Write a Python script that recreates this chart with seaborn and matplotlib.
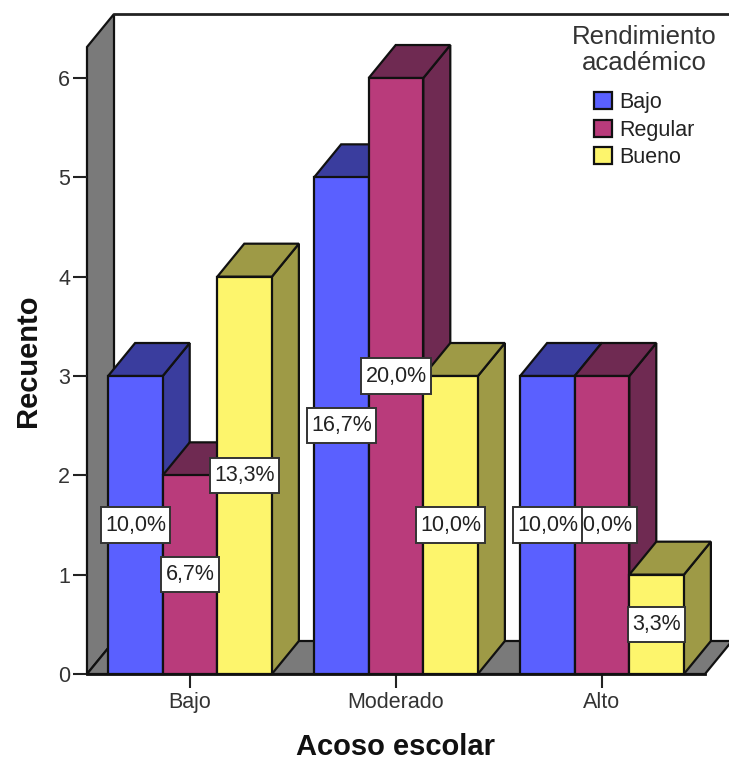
import matplotlib
matplotlib.use("Agg")
import matplotlib.pyplot as plt
from matplotlib.path import Path
import pandas as pd
import seaborn as sns

categories = ["Bajo", "Moderado", "Alto"]
series_names = ["Bajo", "Regular", "Bueno"]
bajo_values = [3, 5, 3]
regular_values = [2, 6, 3]
bueno_values = [4, 3, 1]
bajo_labels = ["10,0%", "16,7%", "10,0%"]
regular_labels = ["6,7%", "20,0%", "10,0%"]
bueno_labels = ["13,3%", "10,0%", "3,3%"]
front_colors = ["#5A60FF", "#B93B7B", "#FDF56C"]
side_colors = ["#3A3D9E", "#6F2A52", "#9E9A46"]
wall_color = "#7A7A7A"

sns.set_theme(style="white")
plt.rcParams["font.family"] = ["Liberation Sans", "DejaVu Sans"]

df = pd.DataFrame({
    "Acoso": categories * 3,
    "Rendimiento": [n for n in series_names for _ in categories],
    "Recuento": bajo_values + regular_values + bueno_values,
})

W, H = 729, 761
fig = plt.figure(figsize=(W / 100, H / 100), dpi=100)
ax = fig.add_axes([87 / W, (H - 674) / H, 618 / W, 627 / H])
sns.barplot(data=df, x="Acoso", y="Recuento", hue="Rendimiento", order=categories,
            hue_order=series_names, palette=front_colors, saturation=1, width=0.795,
            edgecolor="#111111", linewidth=1.6, ax=ax, errorbar=None)
ax.set_xlim(-0.5, 2.5)
ymax = 627 / 99.33
ax.set_ylim(0, ymax)

# depth of the pseudo-3D projection in data units
dx = 27 * 3 / 618
dy = 33 * ymax / 627
edge = dict(edgecolor="#111111", linewidth=1.6, clip_on=False)

# walls and floor
ax.fill([-0.5, -0.5 + dx, -0.5 + dx, -0.5], [0, dy, ymax + dy, ymax], facecolor=wall_color, zorder=0.5, **edge)
ax.fill([-0.5, -0.5 + dx, 2.5 + dx, 2.5], [0, dy, dy, 0], facecolor=wall_color, zorder=0.5, **edge)
ax.plot([-0.5 + dx, 2.5 + dx], [ymax + dy, ymax + dy], color="#222222", lw=2, clip_on=False, zorder=0.6)

# depth faces for each bar, painted left to right
all_labels = [bajo_labels, regular_labels, bueno_labels]
bars = []
for s, cont in enumerate(ax.containers):
    for c, rect in enumerate(cont):
        bars.append((rect.get_x(), rect, s, c))
bars.sort(key=lambda b: b[0])
z = 2.0
for x0, rect, s, c in bars:
    w, h = rect.get_width(), rect.get_height()
    ax.fill([x0 + w, x0 + w + dx, x0 + w + dx, x0 + w], [0, dy, h + dy, h],
            facecolor=side_colors[s], zorder=z, **edge)
    ax.fill([x0, x0 + dx, x0 + w + dx, x0 + w], [h, h + dy, h + dy, h],
            facecolor=side_colors[s], zorder=z + 0.1, **edge)
    rect.set_zorder(z + 0.2)
    rect.set_clip_on(False)
    z += 1


def label_box(x0, y0, width, height, mutation_size):
    """Label frame: a little padding sideways, more above and below."""
    px, py = 0.19 * mutation_size, 0.33 * mutation_size
    x1, y1 = x0 + width + px, y0 + height + py
    x0, y0 = x0 - px, y0 - py
    return Path([(x0, y0), (x1, y0), (x1, y1), (x0, y1), (x0, y0)], closed=True)


# value labels: the left-hand series sits on top
for x0, rect, s, c in sorted(bars, key=lambda b: -b[2]):
    ax.text(x0 + rect.get_width() / 2, rect.get_height() / 2, all_labels[s][c],
            ha="center", va="center", fontsize=15.5, color="#222222", zorder=50 - s,
            bbox=dict(boxstyle=label_box, fc="white", ec="#333333", lw=1.4))

for sp in ["top", "right", "left"]:
    ax.spines[sp].set_visible(False)
ax.spines["bottom"].set_linewidth(2)
ax.spines["bottom"].set_color("#111111")
ax.spines["bottom"].set_zorder(40)
ax.set_yticks(range(7))
ax.tick_params(axis="both", length=10, width=1.5, color="#222222", labelsize=15.5,
               labelcolor="#333333", left=True, bottom=True)
ax.tick_params(axis="x", pad=3)
ax.tick_params(axis="y", pad=2)
ax.set_xlabel("Acoso escolar", fontsize=21, fontweight="bold", color="#111111", labelpad=14.5)
ax.set_ylabel("Recuento", fontsize=21, fontweight="bold", color="#111111", labelpad=12)

sns.move_legend(ax, "upper center", bbox_to_anchor=(644 / W, 1 - 6 / H), bbox_transform=fig.transFigure,
                title="Rendimiento\nacadémico", title_fontsize=18.5, fontsize=15.5, frameon=False,
                handlelength=0.84, handleheight=0.84, handletextpad=0.35, labelspacing=0.31)
leg = ax.get_legend()
leg.get_title().set_linespacing(1.1)
leg.get_title().set_color("#333333")
leg.get_title().set_multialignment("center")
leg.set_zorder(60)
leg._legend_box.sep = 12
for t in leg.get_texts():
    t.set_color("#222222")

fig.savefig("out.png", dpi=100, facecolor="white")
